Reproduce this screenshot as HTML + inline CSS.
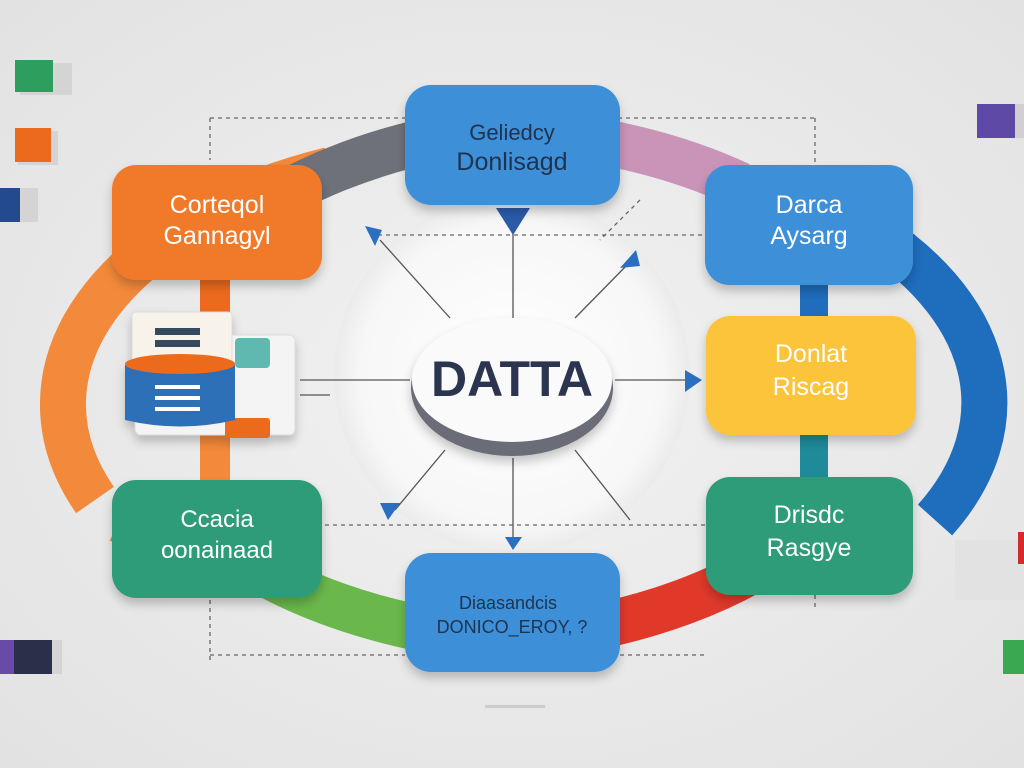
<!DOCTYPE html>
<html><head><meta charset="utf-8"><style>
html,body{margin:0;padding:0;width:1024px;height:768px;overflow:hidden;background:#ececec}
svg{display:block}
text{font-family:"Liberation Sans",sans-serif}
</style></head><body>
<svg width="1024" height="768" viewBox="0 0 1024 768" xmlns="http://www.w3.org/2000/svg">
<defs>
<radialGradient id="bg" cx="50%" cy="50%" r="70%"><stop offset="0" stop-color="#f2f2f2"/><stop offset="1" stop-color="#e2e2e2"/></radialGradient>
<radialGradient id="halo" cx="50%" cy="50%" r="50%"><stop offset="0" stop-color="#ffffff"/><stop offset="0.85" stop-color="#f7f7f7"/><stop offset="1" stop-color="#ebebeb"/></radialGradient>
<filter id="sh" x="-20%" y="-20%" width="140%" height="150%"><feDropShadow dx="0" dy="6" stdDeviation="5" flood-color="#000" flood-opacity="0.22"/></filter>
</defs>
<rect width="1024" height="768" fill="url(#bg)"/>
<!-- side squares -->
<rect x="20" y="63" width="52" height="32" fill="#d4d4d4"/><rect x="15" y="60" width="38" height="32" fill="#2e9e5e"/>
<rect x="18" y="131" width="40" height="34" fill="#d4d4d4"/><rect x="15" y="128" width="36" height="34" fill="#ec6a1e"/>
<rect x="0" y="188" width="38" height="34" fill="#d4d4d4"/><rect x="0" y="188" width="20" height="34" fill="#234a8c"/>
<rect x="977" y="104" width="38" height="34" fill="#5e4aa6"/><rect x="1015" y="104" width="9" height="34" fill="#d0d0d0"/>
<rect x="0" y="640" width="62" height="34" fill="#d4d4d4"/><rect x="0" y="640" width="14" height="34" fill="#6a4aa8"/><rect x="14" y="640" width="38" height="34" fill="#2a2f4a"/>
<rect x="1003" y="640" width="21" height="34" fill="#3aa850"/>
<rect x="955" y="540" width="69" height="60" fill="#e2e2e2"/><rect x="1018" y="532" width="6" height="32" fill="#d62a2a"/>
<!-- ring -->
<g fill="none" stroke-width="46">
<path d="M 95 500 A 440 255 0 0 1 330 170" stroke="#f3893a"/>
<path d="M 250 215 A 440 255 0 0 1 440 138" stroke="#6e707a"/>
<path d="M 580 138 A 440 255 0 0 1 740 185" stroke="#c994b8"/>
<path d="M 860 225 A 440 255 0 0 1 935 520" stroke="#1f6dbd"/>
<path d="M 770 560 A 440 255 0 0 1 580 630" stroke="#e0392a"/>
<path d="M 440 632 A 440 255 0 0 1 250 565" stroke="#6ab84c"/>
<path d="M 250 565 A 440 255 0 0 1 120 520" stroke="#f3893a"/>
</g>
<!-- inner bars between boxes -->
<rect x="200" y="278" width="30" height="40" fill="#ec6a1e"/>
<rect x="200" y="435" width="30" height="48" fill="#f3893a"/>
<rect x="800" y="283" width="28" height="36" fill="#1f6dbd"/>
<rect x="800" y="433" width="28" height="46" fill="#1e8a9a"/>
<!-- center halo -->
<circle cx="512" cy="375" r="178" fill="url(#halo)"/>
<!-- dashed guides -->
<g stroke="#666" stroke-width="1.3" stroke-dasharray="4,4" fill="none">
<path d="M210 118 H815"/><path d="M210 118 V160"/><path d="M815 118 V165"/>
<path d="M370 235 H705"/><path d="M640 200 L600 240"/>
<path d="M325 525 H705"/><path d="M210 600 V660"/><path d="M210 655 H405"/><path d="M620 655 H705"/>
<path d="M815 595 V610"/>
</g>
<!-- connectors -->
<g stroke="#555" stroke-width="1.3" fill="none">
<path d="M450 318 L380 240"/><path d="M575 318 L630 262"/><path d="M513 318 V225"/>
<path d="M300 380 H410"/><path d="M615 380 H685"/>
<path d="M445 450 L395 510"/><path d="M513 458 V540"/><path d="M575 450 L630 520"/>
<path d="M300 395 H330"/>
</g>
<g fill="#2a6fc0">
<path d="M365 226 L382 230 L375 246 Z"/><path d="M620 268 L636 250 L640 266 Z"/>
<path d="M685 370 L702 380 L685 392 Z"/><path d="M380 503 L400 503 L388 520 Z"/>
<path d="M505 537 L522 537 L513 550 Z"/><path d="M496 208 L530 208 L513 235 Z" fill="#2a5aa8"/>
</g>
<!-- document icon -->
<g filter="url(#sh)">
<rect x="135" y="335" width="160" height="100" rx="6" fill="#f4f4f4" stroke="#ddd"/>
<rect x="235" y="338" width="35" height="30" rx="4" fill="#5fb9b0"/>
<rect x="225" y="418" width="45" height="20" rx="3" fill="#ec6a1e"/>
<rect x="132" y="312" width="100" height="55" rx="4" fill="#f7f2ea" stroke="#ddd"/>
<rect x="155" y="328" width="45" height="7" fill="#34495e"/><rect x="155" y="340" width="45" height="7" fill="#34495e"/>
<path d="M125 365 Q180 352 235 365 V420 Q180 433 125 420 Z" fill="#2f6fb8"/>
<ellipse cx="180" cy="364" rx="55" ry="10" fill="#ec6a1e"/>
<rect x="155" y="385" width="45" height="4" fill="#fff"/><rect x="155" y="396" width="45" height="4" fill="#fff"/><rect x="155" y="407" width="45" height="4" fill="#fff"/>
</g>
<!-- boxes -->
<g filter="url(#sh)">
<rect x="405" y="85" width="215" height="120" rx="26" fill="#3d8fd8"/>
<rect x="112" y="165" width="210" height="115" rx="24" fill="#f07a2c"/>
<rect x="705" y="165" width="208" height="120" rx="24" fill="#3d8fd8"/>
<rect x="706" y="316" width="210" height="119" rx="24" fill="#fbc43a"/>
<rect x="706" y="477" width="207" height="118" rx="24" fill="#2e9c78"/>
<rect x="112" y="480" width="210" height="118" rx="24" fill="#2e9c78"/>
<rect x="405" y="553" width="215" height="119" rx="26" fill="#3d8fd8"/>
<ellipse cx="512" cy="388" rx="101" ry="68" fill="#6a6d78"/>
<ellipse cx="512" cy="380" rx="100" ry="62" fill="#fafafa"/>
</g>
<g fill="#fff" font-size="25" text-anchor="middle">
<text x="512" y="140" fill="#1f3350" font-size="22">Geliedcy</text>
<text x="512" y="170" fill="#1f3350">Donlisagd</text>
<text x="217" y="213">Corteqol</text><text x="217" y="244">Gannagyl</text>
<text x="809" y="213">Darca</text><text x="809" y="244">Aysarg</text>
<text x="811" y="362">Donlat</text><text x="811" y="395">Riscag</text>
<text x="809" y="523">Drisdc</text><text x="809" y="556">Rasgye</text>
<text x="217" y="527" font-size="24">Ccacia</text><text x="217" y="558" font-size="24">oonainaad</text>
<text x="508" y="609" fill="#1f3350" font-size="18">Diaasandcis</text>
<text x="512" y="633" fill="#1f3350" font-size="18">DONICO_EROY, ?</text>
<text x="512" y="396" fill="#2c3550" font-size="50" font-weight="bold">DATTA</text>
</g>
<rect x="485" y="705" width="60" height="3" fill="#ccc"/>
</svg>
</body></html>
